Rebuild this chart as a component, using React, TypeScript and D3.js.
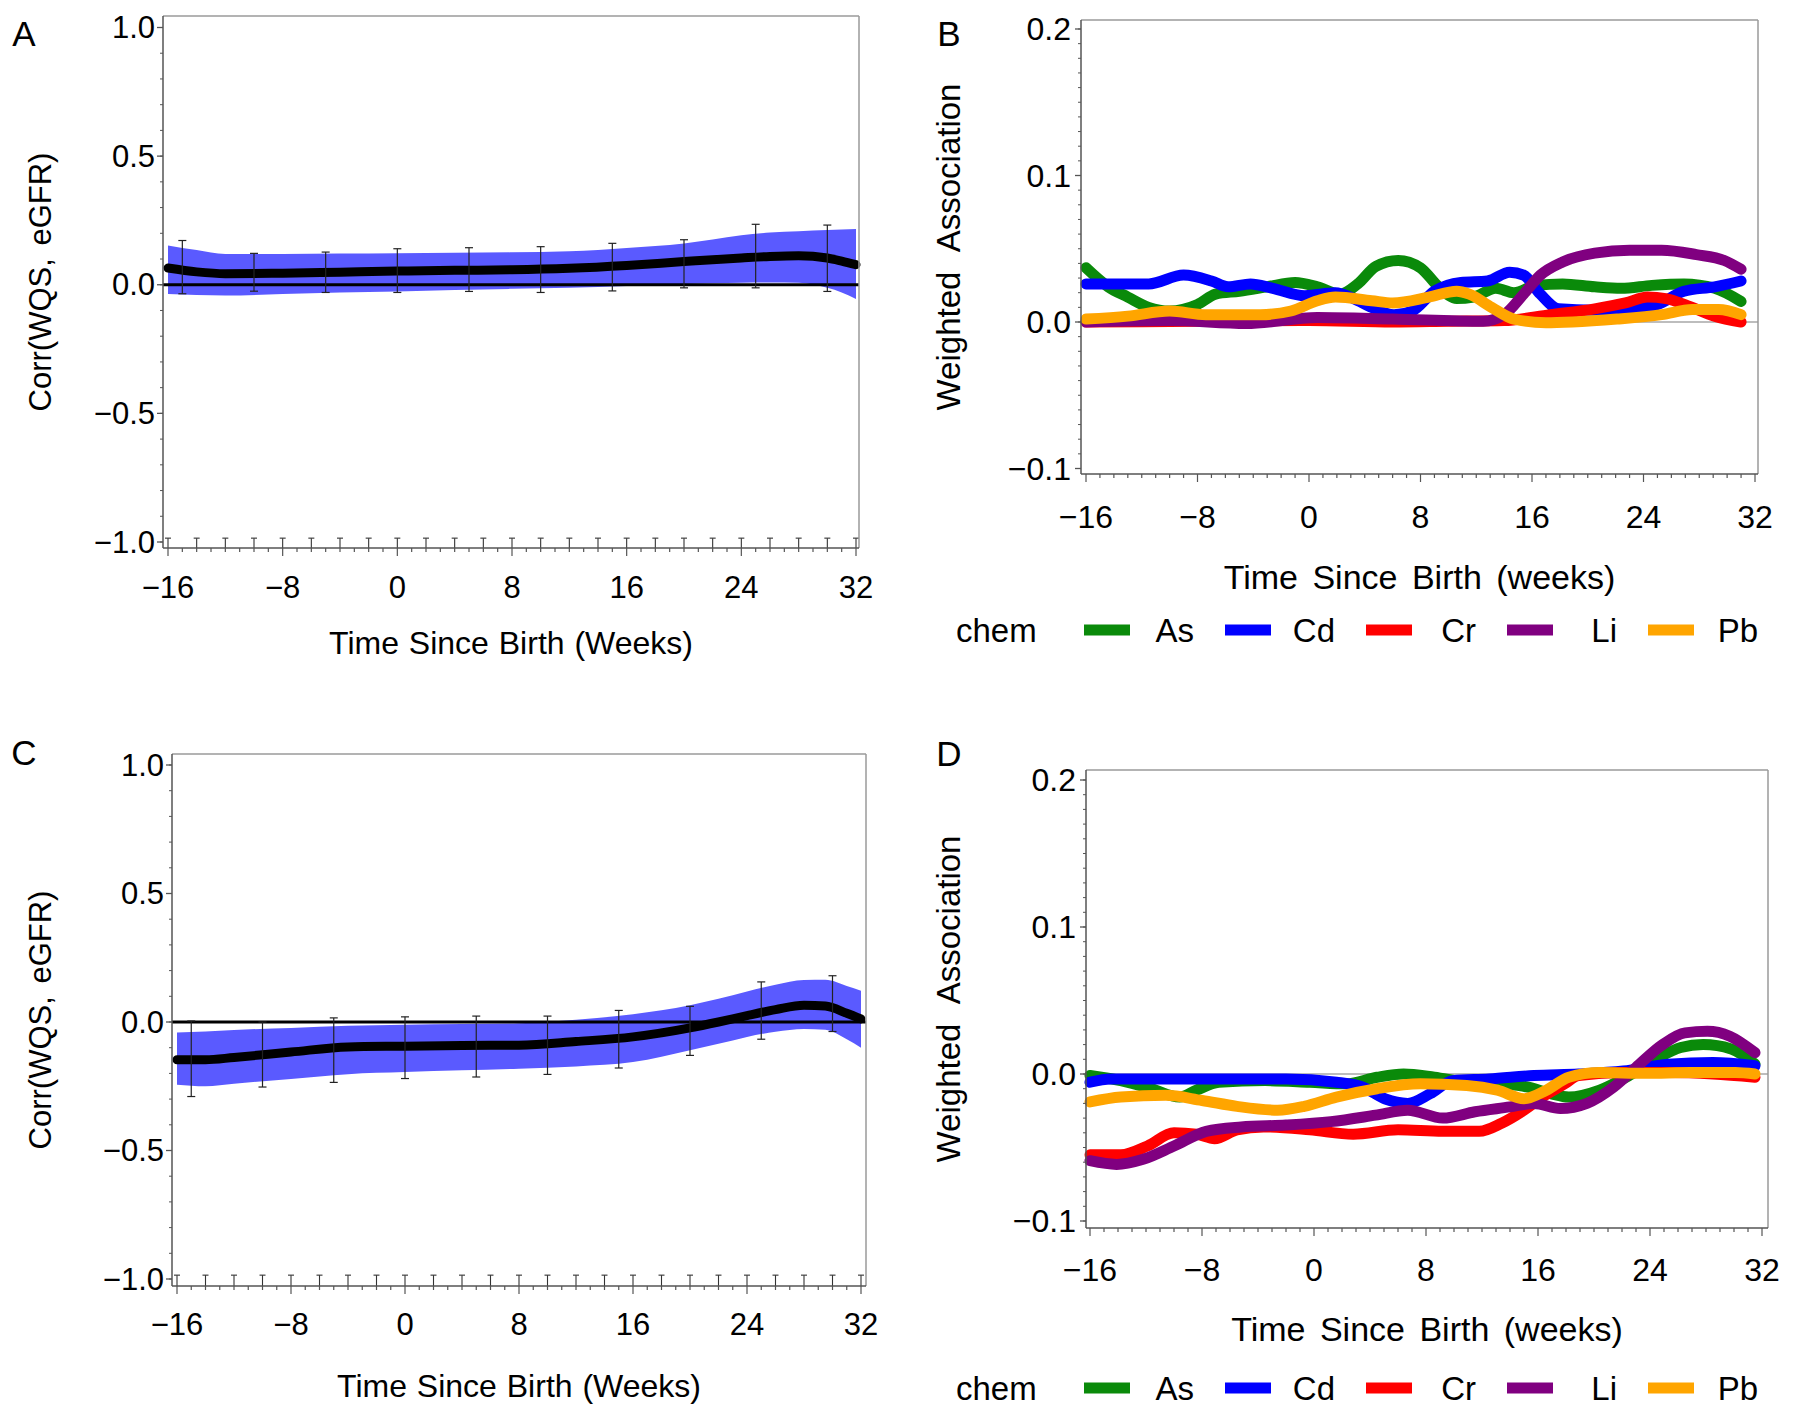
import React from 'react';
import * as d3 from 'd3';

// ---------- DATA ----------
const chems = ['As', 'Cd', 'Cr', 'Li', 'Pb'];
const chemColors = ['#0a8a0a', '#0000ff', '#ff0000', '#800080', '#ffa500'];

const xTicks = [-16, -8, 0, 8, 16, 24, 32];
const corrTicks = [-1.0, -0.5, 0.0, 0.5, 1.0];
const assocTicks = [-0.1, 0.0, 0.1, 0.2];

// Panel A
const aWeeks = [-16, -14, -12, -8, -4, 0, 4, 8, 12, 16, 20, 24, 26, 28, 30, 31, 32];
const aUpper = [0.153, 0.135, 0.12, 0.12, 0.121, 0.122, 0.124, 0.126, 0.13, 0.143, 0.16, 0.192, 0.203, 0.208, 0.213, 0.215, 0.217];
const aLower = [-0.036, -0.04, -0.042, -0.036, -0.03, -0.026, -0.02, -0.016, -0.012, -0.005, 0.003, 0.008, 0.009, 0.008, -0.012, -0.03, -0.055];
const aMean = [0.065, 0.05, 0.043, 0.045, 0.049, 0.053, 0.056, 0.058, 0.064, 0.075, 0.09, 0.104, 0.11, 0.113, 0.104, 0.092, 0.078];
const aErrWeeks = [-15, -10, -5, 0, 5, 10, 15, 20, 25, 30];
const aErrHi = [0.172, 0.122, 0.127, 0.14, 0.144, 0.148, 0.161, 0.175, 0.235, 0.232];
const aErrLo = [-0.035, -0.025, -0.03, -0.03, -0.026, -0.03, -0.024, -0.012, -0.012, -0.026];

// Panel C
const cWeeks = [-16, -14, -12, -8, -4, 0, 4, 8, 12, 16, 20, 22, 24, 26, 28, 29.5, 31, 32];
const cUpper = [-0.041, -0.037, -0.031, -0.023, -0.015, -0.011, -0.008, -0.005, 0.009, 0.03, 0.065, 0.09, 0.119, 0.145, 0.163, 0.164, 0.14, 0.122];
const cLower = [-0.244, -0.25, -0.24, -0.222, -0.203, -0.195, -0.188, -0.182, -0.173, -0.156, -0.11, -0.085, -0.058, -0.038, -0.027, -0.03, -0.067, -0.1];
const cMean = [-0.147, -0.147, -0.138, -0.117, -0.097, -0.094, -0.091, -0.09, -0.076, -0.058, -0.023, 0.0, 0.025, 0.048, 0.065, 0.062, 0.034, 0.012];
const cErrWeeks = [-15, -10, -5, 0, 5, 10, 15, 20, 25, 30];
const cErrHi = [0.004, 0.0, 0.016, 0.02, 0.023, 0.023, 0.045, 0.061, 0.156, 0.18];
const cErrLo = [-0.29, -0.253, -0.235, -0.22, -0.214, -0.204, -0.179, -0.13, -0.067, -0.037];

// small bars sitting on the -1.0 line (every 2 weeks)
const lowBarWeeks = [-16, -14, -12, -10, -8, -6, -4, -2, 0, 2, 4, 6, 8, 10, 12, 14, 16, 18, 20, 22, 24, 26, 28, 30, 32];

// Panel B
const bAs: [number, number][] = [[-16, 0.037], [-14.4, 0.024], [-13, 0.017], [-11.5, 0.01], [-10, 0.0075], [-8, 0.012], [-6.7, 0.019], [-5, 0.021], [-3, 0.024], [-1, 0.027], [0.6, 0.024], [2.2, 0.019], [3.5, 0.026], [4.8, 0.038], [6.4, 0.042], [8, 0.037], [9.3, 0.024], [10.6, 0.016], [11.8, 0.017], [13.4, 0.023], [14.7, 0.02], [16.3, 0.025], [18.2, 0.026], [20.5, 0.024], [22.4, 0.023], [24.6, 0.025], [26.9, 0.026], [29.1, 0.023], [31, 0.014]];
const bCd: [number, number][] = [[-16, 0.026], [-13.8, 0.026], [-11.5, 0.026], [-9, 0.032], [-7, 0.028], [-5.8, 0.024], [-4.2, 0.026], [-2.6, 0.023], [-0.3, 0.018], [1.9, 0.02], [3.2, 0.016], [4.5, 0.01], [6.1, 0.005], [7.4, 0.0075], [9, 0.021], [10.9, 0.027], [12.8, 0.028], [14.4, 0.034], [15.4, 0.032], [16.6, 0.019], [17.9, 0.009], [20.5, 0.008], [23, 0.009], [25, 0.012], [26.9, 0.021], [29.1, 0.024], [31, 0.028]];
const bCr: [number, number][] = [[-16, 0.0], [-8, 0.0005], [0, 0.001], [6, 0.0], [10, 0.0005], [14, 0.001], [17.3, 0.005], [20.5, 0.009], [22.7, 0.013], [24.3, 0.017], [25.6, 0.016], [27.2, 0.011], [29.1, 0.004], [31, 0.0]];
const bLi: [number, number][] = [[-16, 0.0], [-10, 0.001], [-4.5, -0.001], [0.6, 0.003], [6, 0.002], [12.5, 0.0005], [14, 0.005], [15.4, 0.019], [16.6, 0.032], [18.2, 0.041], [20.5, 0.047], [23, 0.049], [25.3, 0.049], [27.8, 0.046], [29.8, 0.042], [31, 0.036]];
const bPb: [number, number][] = [[-16, 0.002], [-13, 0.004], [-10, 0.0075], [-7.4, 0.005], [-3.5, 0.005], [-1.3, 0.0075], [0.6, 0.0145], [1.9, 0.017], [4.5, 0.0145], [6, 0.013], [8.6, 0.017], [10.6, 0.021], [11.5, 0.019], [13.1, 0.01], [14.7, 0.002], [17, -0.0005], [18.9, 0.0], [22.1, 0.002], [25.3, 0.005], [27.5, 0.0085], [29.4, 0.0085], [31, 0.005]];

// Panel D
const dAs: [number, number][] = [[-16, -0.001], [-13.8, -0.0045], [-11.6, -0.01], [-9.6, -0.0157], [-8.4, -0.011], [-6.8, -0.0056], [-3.5, -0.0045], [-0.3, -0.0056], [2.3, -0.0067], [4.5, -0.0022], [6.4, 0.0], [8.6, -0.0022], [10.9, -0.0056], [13.4, -0.0067], [15.3, -0.009], [16.9, -0.0134], [18.2, -0.0157], [20.4, -0.011], [22.7, 0.0], [24.6, 0.011], [26.2, 0.018], [27.8, 0.02], [29.8, 0.017], [31.5, 0.0067]];
const dCd: [number, number][] = [[-16, -0.0056], [-14.5, -0.0034], [-6.8, -0.0034], [-2, -0.0034], [1.6, -0.0056], [3.5, -0.009], [5.1, -0.017], [6.7, -0.02], [8.3, -0.0134], [9.9, -0.0045], [12.5, -0.0034], [15.7, -0.001], [18.9, 0.0], [22.1, 0.002], [25.3, 0.0067], [28.5, 0.0078], [31.5, 0.0056]];
const dCr: [number, number][] = [[-16, -0.055], [-13.8, -0.055], [-11.9, -0.049], [-10, -0.04], [-8.4, -0.041], [-7.1, -0.044], [-5.5, -0.038], [-3.6, -0.036], [-0.3, -0.038], [2.8, -0.041], [6, -0.038], [9.2, -0.039], [11.8, -0.039], [13.4, -0.0335], [15, -0.0246], [16.3, -0.0157], [17.9, -0.0067], [18.9, -0.001], [22.1, 0.001], [25.3, 0.001], [28.5, 0.0], [31.5, -0.0022]];
const dLi: [number, number][] = [[-16, -0.059], [-14.1, -0.0615], [-12.2, -0.058], [-10, -0.049], [-7.7, -0.039], [-5.2, -0.036], [-2, -0.0347], [1.2, -0.0324], [4.4, -0.028], [6.7, -0.0246], [9.2, -0.03], [11.5, -0.0257], [14, -0.0224], [15.7, -0.02], [17.6, -0.0235], [19.5, -0.02], [21.4, -0.009], [23, 0.0045], [24.9, 0.02], [26.5, 0.028], [28.1, 0.029], [29.7, 0.0257], [31.5, 0.0145]];
const dPb: [number, number][] = [[-16, -0.019], [-13.8, -0.0157], [-10.6, -0.0145], [-8, -0.018], [-5.5, -0.022], [-2.6, -0.0246], [-0.7, -0.022], [1.6, -0.0157], [4.5, -0.01], [7.6, -0.0067], [10.9, -0.0078], [13.1, -0.011], [15, -0.0168], [16.6, -0.011], [18.2, -0.0022], [20.4, 0.001], [23.7, 0.0005], [26.9, 0.001], [30.1, 0.001], [31.5, 0.0]];

const bSeries = [bAs, bCd, bCr, bLi, bPb];
const dSeries = [dAs, dCd, dCr, dLi, dPb];

// ---------- LAYOUT ----------
const FONT = "'Liberation Sans', Arial, Helvetica, sans-serif";
const fmtCorr = (v: number) => (v < 0 ? '\u2212' : '') + Math.abs(v).toFixed(1);
const fmtAssoc = (v: number) => (v < 0 ? '\u2212' : '') + Math.abs(v).toFixed(1);
const fmtX = (v: number) => (v < 0 ? '\u2212' : '') + Math.abs(v);

type Frame = { l: number; r: number; t: number; b: number };

function Axes({ frame, x, y, yTicks, yMinorStep, yFmt, tickFont, labelGap, tickLabelY }: any) {
  const yDom = y.domain();
  const minor: number[] = [];
  const lo = Math.min(yDom[0], yDom[1]);
  const hi = Math.max(yDom[0], yDom[1]);
  for (let v = Math.ceil(lo / yMinorStep - 1e-9); v * yMinorStep <= hi + 1e-9; v++) minor.push(v * yMinorStep);
  const xMinor = d3.range(-16, 33, 1);
  return (
    <g>
      <line x1={frame.l} x2={frame.r} y1={frame.t} y2={frame.t} stroke="#9a9a9a" strokeWidth={1.5} />
      <line x1={frame.r} x2={frame.r} y1={frame.t} y2={frame.b} stroke="#9a9a9a" strokeWidth={1.5} />
      <line x1={frame.l} x2={frame.l} y1={frame.t} y2={frame.b} stroke="#555" strokeWidth={1.5} />
      <line x1={frame.l} x2={frame.r} y1={frame.b} y2={frame.b} stroke="#555" strokeWidth={1.5} />
      {minor.map((v, i) => (
        <line key={'ym' + i} x1={frame.l - 3} x2={frame.l} y1={y(v)} y2={y(v)} stroke="#555" strokeWidth={1} />
      ))}
      {yTicks.map((v: number) => (
        <g key={'yt' + v}>
          <line x1={frame.l - 6} x2={frame.l} y1={y(v)} y2={y(v)} stroke="#555" strokeWidth={1.3} />
          <text x={frame.l - labelGap} y={y(v)} textAnchor="end" dominantBaseline="central" fontSize={tickFont} fontFamily={FONT}>
            {yFmt(v)}
          </text>
        </g>
      ))}
      {xMinor.map((v) => (
        <line key={'xm' + v} x1={x(v)} x2={x(v)} y1={frame.b} y2={frame.b + (v % 8 === 0 ? 8 : 4)} stroke="#555" strokeWidth={1.2} />
      ))}
      {xTicks.map((v) => (
        <text key={'xt' + v} x={x(v)} y={tickLabelY} textAnchor="middle" dominantBaseline="central" fontSize={tickFont} fontFamily={FONT}>
          {fmtX(v)}
        </text>
      ))}
    </g>
  );
}

function CorrPanel({ frame, xr, yr, weeks, upper, lower, mean, errWeeks, errHi, errLo, letter, letterPos, tickLabelY, xLabelY, yLabelX }: any) {
  const x = d3.scaleLinear().domain([-16, 32]).range(xr);
  const y = d3.scaleLinear().domain([-1, 1]).range(yr);
  const idx = d3.range(weeks.length);
  const area = d3
    .area<number>()
    .x((i) => x(weeks[i]))
    .y0((i) => y(lower[i]))
    .y1((i) => y(upper[i]))
    .curve(d3.curveMonotoneX);
  const line = d3
    .line<number>()
    .x((i) => x(weeks[i]))
    .y((i) => y(mean[i]))
    .curve(d3.curveMonotoneX);
  const cx = (frame.l + frame.r) / 2;
  const cy = (frame.t + frame.b) / 2;
  return (
    <g>
      <path d={area(idx) || ''} fill="#5a5aff" />
      <line x1={frame.l} x2={frame.r} y1={y(0)} y2={y(0)} stroke="#000" strokeWidth={3} />
      <path d={line(idx) || ''} fill="none" stroke="#000" strokeWidth={9} strokeLinecap="round" />
      {errWeeks.map((w: number, i: number) => (
        <g key={'e' + w} stroke="#222" strokeWidth={1.2}>
          <line x1={x(w)} x2={x(w)} y1={y(errHi[i])} y2={y(errLo[i])} />
          <line x1={x(w) - 4} x2={x(w) + 4} y1={y(errHi[i])} y2={y(errHi[i])} />
          <line x1={x(w) - 4} x2={x(w) + 4} y1={y(errLo[i])} y2={y(errLo[i])} />
        </g>
      ))}
      {lowBarWeeks.map((w: number) => (
        <g key={'lb' + w} stroke="#333" strokeWidth={1.1}>
          <line x1={x(w)} x2={x(w)} y1={y(-0.985)} y2={frame.b} />
          <line x1={x(w) - 3} x2={x(w) + 3} y1={y(-0.985)} y2={y(-0.985)} />
        </g>
      ))}
      <Axes frame={frame} x={x} y={y} yTicks={corrTicks} yMinorStep={0.1} yFmt={fmtCorr} tickFont={31} labelGap={8} tickLabelY={tickLabelY} />
      <text x={cx} y={xLabelY} textAnchor="middle" dominantBaseline="central" fontSize={32} fontFamily={FONT} style={{ wordSpacing: '1px' }}>
        Time Since Birth (Weeks)
      </text>
      <text transform={`translate(${yLabelX},${cy}) rotate(-90)`} textAnchor="middle" dominantBaseline="central" fontSize={31} fontFamily={FONT} style={{ wordSpacing: '4px' }}>
        Corr(WQS, eGFR)
      </text>
      <text x={letterPos[0]} y={letterPos[1]} textAnchor="middle" dominantBaseline="central" fontSize={35} fontFamily={FONT}>
        {letter}
      </text>
    </g>
  );
}

function AssocPanel({ frame, xr, yr, series, letter, letterPos, tickLabelY, xLabelY, yLabelX, legendY, legendX }: any) {
  const x = d3.scaleLinear().domain([-16, 32]).range(xr);
  const y = d3.scaleLinear().domain([-0.1, 0.2]).range(yr);
  const line = d3
    .line<[number, number]>()
    .x((d) => x(d[0]))
    .y((d) => y(d[1]))
    .curve(d3.curveMonotoneX);
  const cx = (frame.l + frame.r) / 2;
  const cy = (frame.t + frame.b) / 2;
  return (
    <g>
      <line x1={frame.l} x2={frame.r} y1={y(0)} y2={y(0)} stroke="#bdbdbd" strokeWidth={2} />
      {series.map((s: [number, number][], i: number) => (
        <path key={chems[i]} d={line(s) || ''} fill="none" stroke={chemColors[i]} strokeWidth={11} strokeLinecap="round" strokeLinejoin="round" />
      ))}
      <Axes frame={frame} x={x} y={y} yTicks={assocTicks} yMinorStep={0.01} yFmt={fmtAssoc} tickFont={32} labelGap={10} tickLabelY={tickLabelY} />
      <text x={cx} y={xLabelY} textAnchor="middle" dominantBaseline="central" fontSize={34} fontFamily={FONT} style={{ wordSpacing: '5px' }}>
        Time Since Birth (weeks)
      </text>
      <text transform={`translate(${yLabelX},${cy}) rotate(-90)`} textAnchor="middle" dominantBaseline="central" fontSize={33} fontFamily={FONT} style={{ wordSpacing: '12px' }}>
        Weighted Association
      </text>
      <text x={letterPos[0]} y={letterPos[1]} textAnchor="middle" dominantBaseline="central" fontSize={35} fontFamily={FONT}>
        {letter}
      </text>
      <text x={legendX} y={legendY} dominantBaseline="central" fontSize={33} fontFamily={FONT}>
        chem
      </text>
      {chems.map((c, i) => {
        const sx = legendX + 128 + i * 141;
        return (
          <g key={'lg' + c}>
            <rect x={sx} y={legendY - 5.5} width={46} height={11} fill={chemColors[i]} />
            <text x={sx + 110} y={legendY} textAnchor="end" dominantBaseline="central" fontSize={33} fontFamily={FONT}>
              {c}
            </text>
          </g>
        );
      })}
    </g>
  );
}

export default function App() {
  const fA: Frame = { l: 163, r: 859, t: 16, b: 548 };
  const fC: Frame = { l: 172, r: 866, t: 754, b: 1286 };
  const fB: Frame = { l: 1081, r: 1758, t: 20, b: 474 };
  const fD: Frame = { l: 1086, r: 1768, t: 770, b: 1228 };
  return (
    <svg width={1800} height={1415} style={{ position: 'absolute', left: 0, top: 0, background: '#fff' }}>
      <rect width={1800} height={1415} fill="#fff" />
      <CorrPanel frame={fA} xr={[168, 856]} yr={[542, 27.5]} weeks={aWeeks} upper={aUpper} lower={aLower} mean={aMean}
        errWeeks={aErrWeeks} errHi={aErrHi} errLo={aErrLo} letter="A" letterPos={[24, 33]} tickLabelY={587} xLabelY={643} yLabelX={40} />
      <CorrPanel frame={fC} xr={[177, 861]} yr={[1279, 765]} weeks={cWeeks} upper={cUpper} lower={cLower} mean={cMean}
        errWeeks={cErrWeeks} errHi={cErrHi} errLo={cErrLo} letter="C" letterPos={[24, 752]} tickLabelY={1324} xLabelY={1386} yLabelX={40} />
      <AssocPanel frame={fB} xr={[1086, 1755]} yr={[468.5, 29]} series={bSeries} letter="B" letterPos={[949, 33]}
        tickLabelY={517} xLabelY={577} yLabelX={948} legendY={630} legendX={956} />
      <AssocPanel frame={fD} xr={[1090, 1762]} yr={[1221, 780]} series={dSeries} letter="D" letterPos={[949, 753]}
        tickLabelY={1270} xLabelY={1329} yLabelX={948} legendY={1388} legendX={956} />
    </svg>
  );
}
